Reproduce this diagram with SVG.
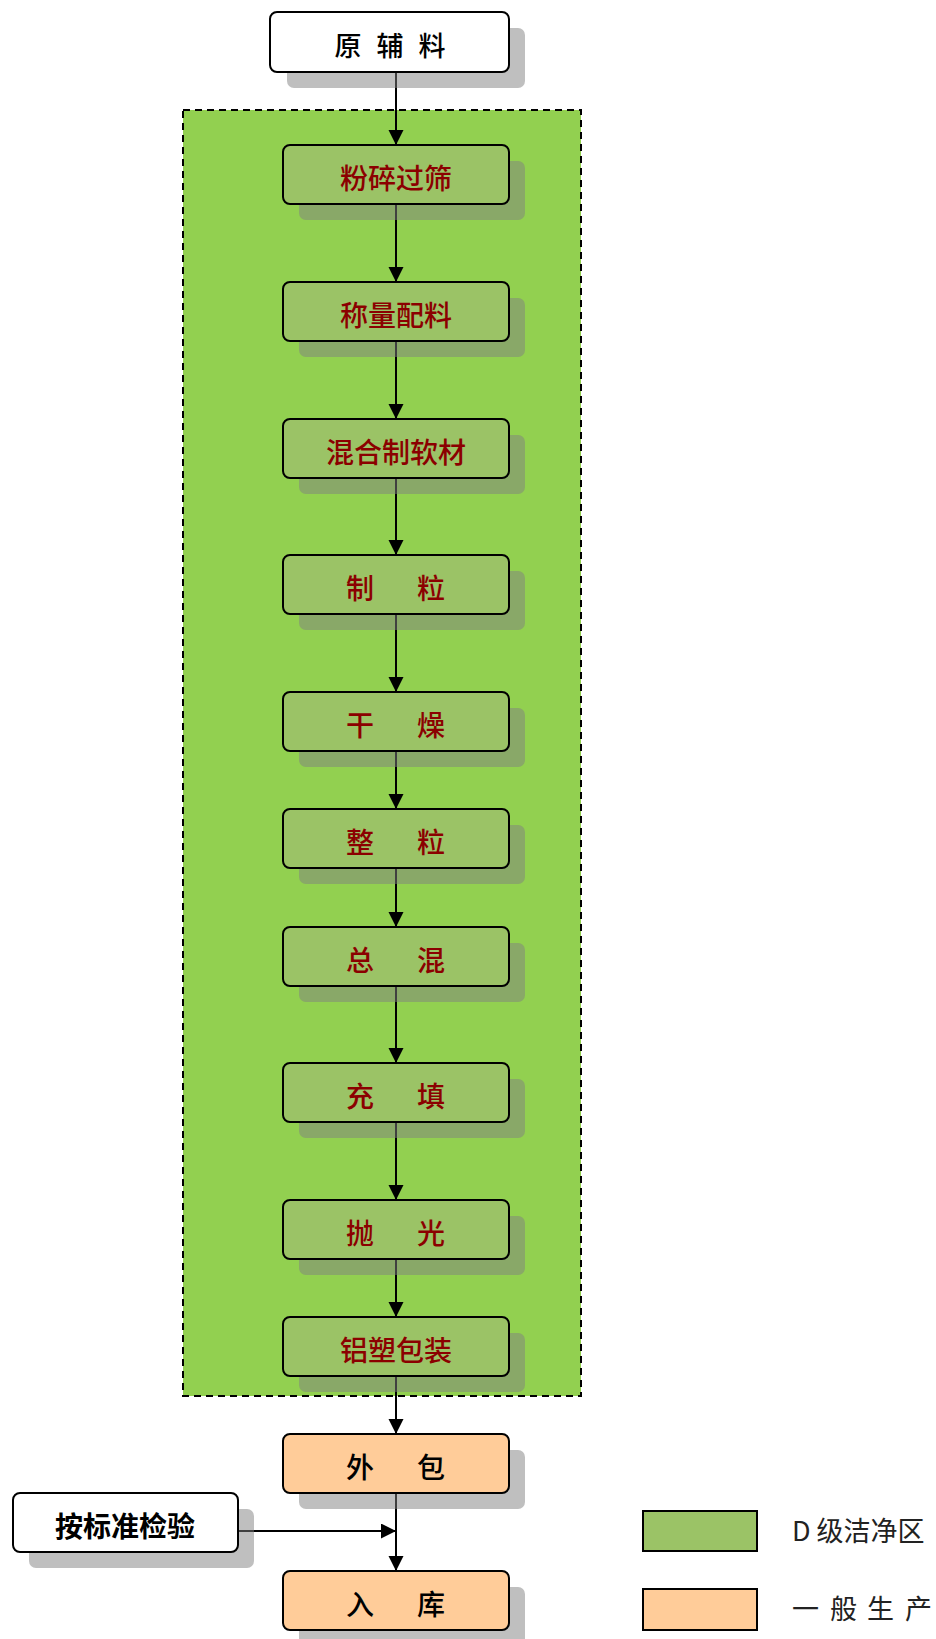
<svg xmlns="http://www.w3.org/2000/svg" width="936" height="1639" viewBox="0 0 936 1639">
<style>
.sh{fill:#808080;fill-opacity:0.5}
.bx{stroke:#000;stroke-width:2}
.g{fill:#9BC366}
.o{fill:#FFCC99}
.w{fill:#FFFFFF}
.t{font-family:"Noto Sans CJK SC","Liberation Sans",sans-serif;font-size:28px;text-anchor:middle;font-weight:500}
.b{font-weight:bold}
.r{fill:#8B0000}
.k{fill:#000}
.lg{font-family:"Noto Sans CJK SC","Liberation Sans",sans-serif;font-size:27px;fill:#222}
.c{stroke:#000;stroke-width:2;fill:none;marker-end:url(#ah)}
</style>
<defs>
<marker id="ah" markerUnits="userSpaceOnUse" markerWidth="16" markerHeight="16" refX="15" refY="7.5" orient="auto">
<path d="M0,0 L15,7.5 L0,15 z" fill="#000"/>
</marker>
</defs>
<rect width="936" height="1639" fill="#FFFFFF"/>
<g id="zone">
<rect x="183" y="110" width="398" height="1286" fill="#92D050" stroke="#000" stroke-width="2" stroke-dasharray="7,5"/>
</g>
<g id="connectors">
<line class="c" x1="396" y1="72" x2="396" y2="145"/>
<line class="c" x1="396" y1="204" x2="396" y2="282"/>
<line class="c" x1="396" y1="341" x2="396" y2="419"/>
<line class="c" x1="396" y1="478" x2="396" y2="555"/>
<line class="c" x1="396" y1="614" x2="396" y2="692"/>
<line class="c" x1="396" y1="751" x2="396" y2="809"/>
<line class="c" x1="396" y1="868" x2="396" y2="927"/>
<line class="c" x1="396" y1="986" x2="396" y2="1063"/>
<line class="c" x1="396" y1="1122" x2="396" y2="1200"/>
<line class="c" x1="396" y1="1259" x2="396" y2="1317"/>
<line class="c" x1="396" y1="1376" x2="396" y2="1434"/>
<line class="c" x1="396" y1="1493" x2="396" y2="1571"/>
<line class="c" x1="238" y1="1531" x2="396" y2="1531"/>
</g>
<g id="n-raw">
<rect class="sh" x="287" y="28" width="238" height="60" rx="7"/>
<rect class="bx w" x="270" y="12" width="239" height="60" rx="7"/>
<text class="t k" y="56" style="font-size:27px"><tspan x="348">原</tspan><tspan x="390">辅</tspan><tspan x="432">料</tspan></text>
</g>
<g id="n1">
<rect class="sh" x="299" y="161" width="226" height="59" rx="7"/>
<rect class="bx g" x="283" y="145" width="226" height="59" rx="7"/>
<text class="t r" x="396" y="189">粉碎过筛</text>
</g>
<g id="n2">
<rect class="sh" x="299" y="298" width="226" height="59" rx="7"/>
<rect class="bx g" x="283" y="282" width="226" height="59" rx="7"/>
<text class="t r" x="396" y="326">称量配料</text>
</g>
<g id="n3">
<rect class="sh" x="299" y="435" width="226" height="59" rx="7"/>
<rect class="bx g" x="283" y="419" width="226" height="59" rx="7"/>
<text class="t r" x="396" y="463">混合制软材</text>
</g>
<g id="n4">
<rect class="sh" x="299" y="571" width="226" height="59" rx="7"/>
<rect class="bx g" x="283" y="555" width="226" height="59" rx="7"/>
<text class="t r" y="599"><tspan x="360">制</tspan><tspan x="431">粒</tspan></text>
</g>
<g id="n5">
<rect class="sh" x="299" y="708" width="226" height="59" rx="7"/>
<rect class="bx g" x="283" y="692" width="226" height="59" rx="7"/>
<text class="t r" y="736"><tspan x="360">干</tspan><tspan x="431">燥</tspan></text>
</g>
<g id="n6">
<rect class="sh" x="299" y="825" width="226" height="59" rx="7"/>
<rect class="bx g" x="283" y="809" width="226" height="59" rx="7"/>
<text class="t r" y="853"><tspan x="360">整</tspan><tspan x="431">粒</tspan></text>
</g>
<g id="n7">
<rect class="sh" x="299" y="943" width="226" height="59" rx="7"/>
<rect class="bx g" x="283" y="927" width="226" height="59" rx="7"/>
<text class="t r" y="971"><tspan x="360">总</tspan><tspan x="431">混</tspan></text>
</g>
<g id="n8">
<rect class="sh" x="299" y="1079" width="226" height="59" rx="7"/>
<rect class="bx g" x="283" y="1063" width="226" height="59" rx="7"/>
<text class="t r" y="1107"><tspan x="360">充</tspan><tspan x="431">填</tspan></text>
</g>
<g id="n9">
<rect class="sh" x="299" y="1216" width="226" height="59" rx="7"/>
<rect class="bx g" x="283" y="1200" width="226" height="59" rx="7"/>
<text class="t r" y="1244"><tspan x="360">抛</tspan><tspan x="431">光</tspan></text>
</g>
<g id="n10">
<rect class="sh" x="299" y="1333" width="226" height="59" rx="7"/>
<rect class="bx g" x="283" y="1317" width="226" height="59" rx="7"/>
<text class="t r" x="396" y="1361">铝塑包装</text>
</g>
<g id="n11">
<rect class="sh" x="299" y="1450" width="226" height="59" rx="7"/>
<rect class="bx o" x="283" y="1434" width="226" height="59" rx="7"/>
<text class="t k" y="1478"><tspan x="360">外</tspan><tspan x="431">包</tspan></text>
</g>
<g id="n12">
<rect class="sh" x="299" y="1587" width="226" height="59" rx="7"/>
<rect class="bx o" x="283" y="1571" width="226" height="59" rx="7"/>
<text class="t k" y="1615"><tspan x="360">入</tspan><tspan x="431">库</tspan></text>
</g>
<g id="n-qc">
<rect class="sh" x="29" y="1509" width="225" height="59" rx="7"/>
<rect class="bx w" x="13" y="1493" width="225" height="59" rx="7"/>
<text class="t k b" x="125" y="1537">按标准检验</text>
</g>
<g id="legend">
<rect x="643" y="1511" width="114" height="40" fill="#9BC366" stroke="#000" stroke-width="2"/>
<rect x="643" y="1589" width="114" height="41" fill="#FFCC99" stroke="#000" stroke-width="2"/>
<text class="lg" x="792" y="1541">D 级洁净区</text>
<text class="lg" y="1619"><tspan x="792">一</tspan><tspan x="830">般</tspan><tspan x="867">生</tspan><tspan x="905">产</tspan></text>
</g>
</svg>
